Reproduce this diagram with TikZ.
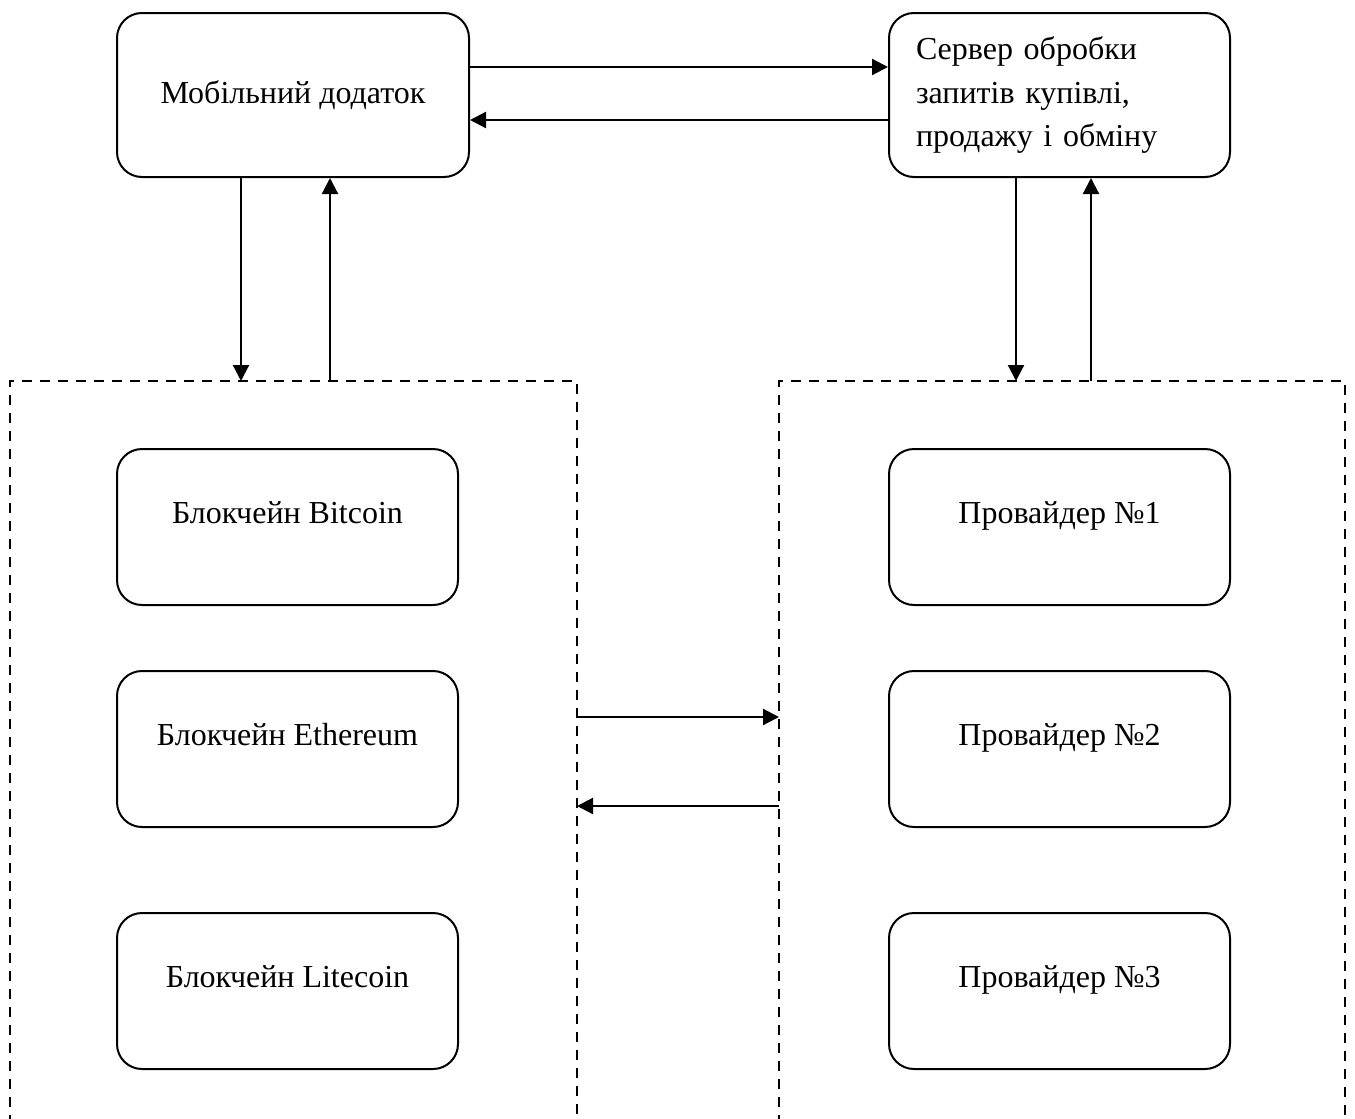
\documentclass[tikz,border=0pt]{standalone}
\usepackage{fontspec}
\setmainfont{Liberation Serif}
\usetikzlibrary{arrows.meta, positioning}

\begin{document}
\begin{tikzpicture}[x=0.5pt, y=-0.5pt,
    block/.style = {draw, line width=1pt, rounded corners=12.5pt, align=center,
                    font=\fontsize{16}{21.75}\selectfont},
    item/.style = {block, minimum width=170.5pt, minimum height=78pt,
                   text height=11pt, text depth=15pt},
    group/.style = {line width=1pt, dash pattern=on 5pt off 4pt},
    arr/.style = {-{Triangle[length=8pt, width=8pt]}, line width=1.1pt}]
    \useasboundingbox (0,0) rectangle (1355,1119);

    % top row
    \node (mob) [block, minimum width=176pt, minimum height=82pt] at (293,95) {Мобільний додаток};
    \node (srv) [block, minimum width=170.5pt, minimum height=82pt, text width=143.5pt,
                 inner xsep=13.5pt, align=left] at (1059.5,95)
                 {Сервер обробки\\запитів купівлі,\\продажу і обміну};

    % dashed groups
    \draw [group] (10,1125) -- (10,381) coordinate (ltop) -- (577,381) -- (577,1125);
    \draw [group] (779,1125) -- (779,381) coordinate (rtop) -- (1345,381) -- (1345,1125);

    % blockchains
    \node (btc) [item] at (287.5,527) {Блокчейн Bitcoin};
    \node (eth) [item] at (287.5,749) {Блокчейн Ethereum};
    \node (ltc) [item] at (287.5,991) {Блокчейн Litecoin};

    % providers
    \node (p1) [item] at (1059.5,527) {Провайдер №1};
    \node (p2) [item] at (1059.5,749) {Провайдер №2};
    \node (p3) [item] at (1059.5,991) {Провайдер №3};

    \coordinate (lout) at (577,717);
    \coordinate (rin)  at (779,717);
    \coordinate (rout) at (779,806);
    \coordinate (lin)  at (577,806);

    \draw [arr] ([yshift=14pt]mob.east) -- ([yshift=14pt]srv.west);
    \draw [arr] ([yshift=-12.5pt]srv.west) -- ([yshift=-12.5pt]mob.east);
    \draw [arr] ([xshift=-26pt]mob.south) -- ([xshift=-26pt]mob.south |- ltop);
    \draw [arr] ([xshift=18.5pt]mob.south |- ltop) -- ([xshift=18.5pt]mob.south);
    \draw [arr] ([xshift=-21.75pt]srv.south) -- ([xshift=-21.75pt]srv.south |- rtop);
    \draw [arr] ([xshift=15.75pt]srv.south |- rtop) -- ([xshift=15.75pt]srv.south);
    \draw [arr] (lout) -- (rin);
    \draw [arr] (rout) -- (lin);
\end{tikzpicture}
\end{document}
